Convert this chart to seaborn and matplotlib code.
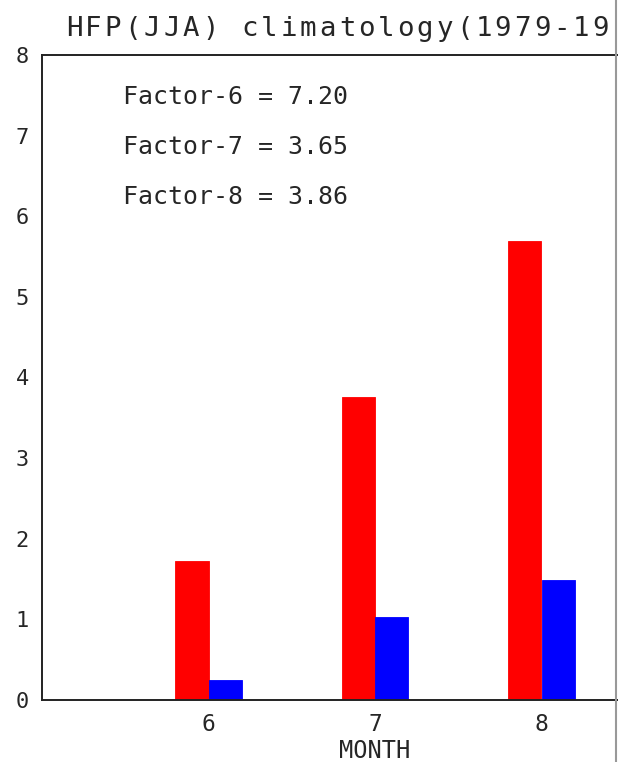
import matplotlib
matplotlib.use("Agg")
import matplotlib.pyplot as plt
from matplotlib.lines import Line2D
import pandas as pd
import seaborn as sns

# Monthly climatology (normalised) for the two series
months = [6, 7, 8]
series_a = [1.73, 3.76, 5.69]
series_b = [0.25, 1.03, 1.49]
factor_labels = ["Factor-6", "Factor-7", "Factor-8"]
factor_values = [7.20, 3.65, 3.86]
yticks = [0, 1, 2, 3, 4, 5, 6, 7, 8]
title = "HFP(JJA) climatology(1979-19"

df = pd.DataFrame({
    "month": months * 2,
    "value": series_a + series_b,
    "series": ["a"] * len(months) + ["b"] * len(months),
})

sns.set_style("white")
plt.rcParams["font.family"] = ["DejaVu Sans Mono", "DejaVu Sans"]

W, H = 618, 762
fig = plt.figure(figsize=(W / 100, H / 100), dpi=100)
# the plot frame runs on past the right edge of the page
ax = fig.add_axes([42 / W, 62 / H, 4 * 166.5 / W, 645 / H])

sns.barplot(data=df, x="month", y="value", hue="series", native_scale=True,
            palette=["#ff0000", "#0000ff"], width=0.4, gap=0, dodge=True,
            saturation=1, linewidth=0, legend=False, ax=ax)
# close the hairline seam between touching bars
for p in ax.patches:
    p.set_edgecolor(p.get_facecolor())
    p.set_linewidth(0.6)

ax.set_xlim(5, 9)
ax.set_ylim(0, 8)
ax.set_xticks(months)
ax.set_xticklabels([str(m) for m in months])
ax.set_yticks(yticks)
ax.set_yticklabels([str(v) for v in yticks])
ax.tick_params(axis="y", direction="in", length=8, width=1.4, color="#222222",
               pad=9.4, labelsize=15.8)
ax.tick_params(axis="x", length=0, pad=9.4, labelsize=16.5)
ax.set_xlabel("MONTH", fontsize=17, labelpad=2)
ax.set_ylabel("")
for s in ax.spines.values():
    s.set_linewidth(1.4)
    s.set_color("#222222")

# scaling factors listed in the upper left
for i, (lab, val) in enumerate(zip(factor_labels, factor_values)):
    ax.text(5.487, 7.48 - 0.62 * i, f"{lab} = {val:.2f}", fontsize=17.9,
            va="center", ha="left")

# title set on a fixed character pitch
pitch = 19.5
for i, ch in enumerate(title):
    fig.text((67 + 7 + pitch * i) / W, (H - 36) / H, ch, fontsize=19.7,
             ha="center", va="baseline")

# page border line at the right
fig.add_artist(Line2D([616 / W, 616 / W], [0, 1], transform=fig.transFigure,
                      color="#999999", linewidth=1.5))

fig.savefig("out.png", dpi=100)
